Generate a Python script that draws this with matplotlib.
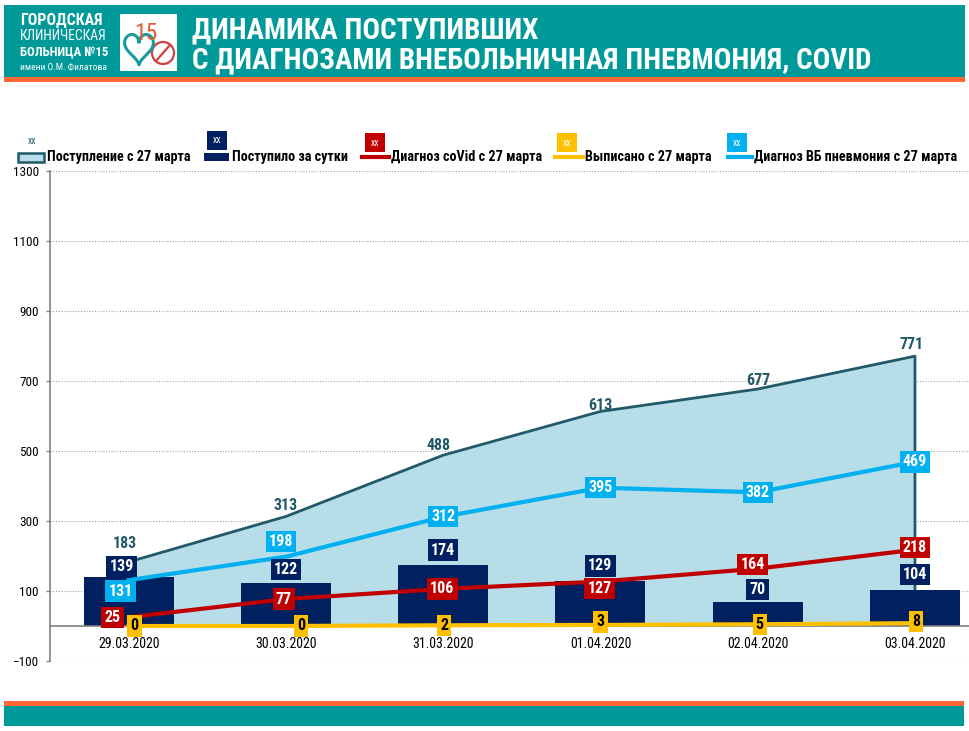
import matplotlib
matplotlib.use('Agg')
import matplotlib.pyplot as plt
from matplotlib.patches import Rectangle, Circle
from matplotlib.lines import Line2D
import numpy as np

# ---------------- data ----------------
dates = ['29.03.2020', '30.03.2020', '31.03.2020', '01.04.2020', '02.04.2020', '03.04.2020']
total_since = [183, 313, 488, 613, 677, 771]      # Поступление с 27 марта
daily = [139, 122, 174, 129, 70, 104]             # Поступило за сутки
covid = [25, 77, 106, 127, 164, 218]              # Диагноз coVid с 27 марта
discharged = [0, 0, 2, 3, 5, 8]                   # Выписано с 27 марта
pneumonia = [131, 198, 312, 395, 382, 469]        # Диагноз ВБ пневмония с 27 марта
y_ticks = [-100, 100, 300, 500, 700, 900, 1100, 1300]
legend_labels = ['Поступление с 27 марта', 'Поступило за сутки', 'Диагноз coVid с 27 марта',
                 'Выписано с 27 марта', 'Диагноз ВБ пневмония с 27 марта']

# label nudges in pixels (dx, dy)
off_total = [(-4, 18), (0, 11), (-5, 10), (0, 6), (1, 9), (-3, 12)]
off_daily = [(-7, 11), (0, 14), (0, 15), (0, 15), (0, 12), (0, 15)]
off_pneu = [(-8, -11), (-5, 15), (0, 0), (0, 0), (0, 0), (0, 0)]
off_covid = [(-16, 0), (-2, 0), (-1, 0), (-1, -7), (-5, 4), (0, 2)]
off_disch = [(6, 0), (15, 0), (1, 0), (0, 3), (2, 0), (1, 2)]

TEAL = '#009999'
ORANGE = '#FF6633'
NAVY = '#002060'
RED = '#C00000'
YELLOW = '#FFC000'
BLUE = '#00B0F0'
AREA = '#B7DEE8'
AREA_EDGE = '#215968'

FONT = ['Roboto Condensed', 'DejaVu Sans']
plt.rcParams['font.family'] = FONT

W, H = 970, 731
fig = plt.figure(figsize=(W / 100, H / 100), dpi=100)

# ---------- background overlay (pixel coordinates) ----------
bg = fig.add_axes([0, 0, 1, 1], zorder=0)
bg.set_xlim(0, W)
bg.set_ylim(H, 0)
bg.axis('off')

bg.add_patch(Rectangle((4, 5), 961, 72, color=TEAL, lw=0))
bg.add_patch(Rectangle((4, 77), 961, 4.5, color=ORANGE, lw=0))
bg.add_patch(Rectangle((4, 701), 960, 4.5, color=ORANGE, lw=0))
bg.add_patch(Rectangle((4, 705.5), 960, 20, color=TEAL, lw=0))

# hospital name block
bg.text(20, 20, 'ГОРОДСКАЯ', color='white', fontsize=11.5, fontweight='bold', va='center', ha='left')
bg.text(20, 36, 'КЛИНИЧЕСКАЯ', color='white', fontsize=9.8, va='center', ha='left')
bg.text(20, 52, 'БОЛЬНИЦА №15', color='white', fontsize=9.2, fontweight='bold', va='center', ha='left')
bg.text(20, 67, 'имени О.М. Филатова', color='white', fontsize=6.8, va='center', ha='left')

# logo
bg.add_patch(Rectangle((120, 14), 57, 57, color='white', lw=0))
t = np.linspace(0, 2 * np.pi, 200)
hx = 16 * np.sin(t) ** 3
hy = 13 * np.cos(t) - 5 * np.cos(2 * t) - 2 * np.cos(3 * t) - np.cos(4 * t)
bg.plot(139 + hx * 0.9, 47 - hy * 1.05, color='#1A9A9A', lw=2.2)
bg.add_patch(Circle((163, 53), 11, fill=False, ec='#D04040', lw=1.6))
bg.plot([156, 170], [61, 45], color='#D04040', lw=1.6)
bg.text(146, 33, '15', color='#E06030', fontsize=17, ha='center', va='center')

# title
bg.text(192, 30, 'ДИНАМИКА ПОСТУПИВШИХ', color='white', fontsize=21, fontweight='bold', va='center', ha='left')
bg.text(192, 60, 'С ДИАГНОЗАМИ ВНЕБОЛЬНИЧНАЯ ПНЕВМОНИЯ, COVID', color='white', fontsize=21,
        fontweight='bold', va='center', ha='left')

# legend (manual, Excel style)
LY = 157
LFS = 10.2
bg.add_patch(Rectangle((18, LY - 4.5), 26, 9, fc=AREA, ec=AREA_EDGE, lw=1.8))
bg.text(47, LY, legend_labels[0], fontsize=LFS, fontweight='bold', va='center', ha='left')
bg.add_patch(Rectangle((204, LY - 4), 25, 8, fc=NAVY, ec='none'))
bg.text(232, LY, legend_labels[1], fontsize=LFS, fontweight='bold', va='center', ha='left')
bg.add_line(Line2D([362, 389], [LY, LY], color=RED, lw=3))
bg.text(391, LY, legend_labels[2], fontsize=LFS, fontweight='bold', va='center', ha='left')
bg.add_line(Line2D([555, 583], [LY, LY], color=YELLOW, lw=3))
bg.text(585, LY, legend_labels[3], fontsize=LFS, fontweight='bold', va='center', ha='left')
bg.add_line(Line2D([728, 752], [LY, LY], color=BLUE, lw=3))
bg.text(754, LY, legend_labels[4], fontsize=LFS, fontweight='bold', va='center', ha='left')

# "xx" legend-key artefacts
bg.text(32, 141, 'xx', color=AREA_EDGE, fontsize=7, ha='center', va='center')
for cx, cy, fc in [(217.5, 140, NAVY), (375.5, 142.5, RED), (567, 142.5, YELLOW), (737, 142.5, BLUE)]:
    bg.add_patch(Rectangle((cx - 10, cy - 9.5), 20, 19, fc=fc, ec='none'))
    bg.text(cx, cy, 'xx', color='white', fontsize=7, ha='center', va='center')

# ---------------- main chart ----------------
ax = fig.add_axes([50 / W, 1 - 661 / H, (W - 50) / W, (661 - 171) / H], zorder=1)
ax.patch.set_alpha(0)
x = np.arange(len(dates))

ax.fill_between(x, 0, total_since, color=AREA, lw=0, zorder=1)
ax.plot(list(x) + [x[-1]], list(total_since) + [0], color=AREA_EDGE, lw=2, zorder=2)
ax.bar(x, daily, width=0.573, color=NAVY, zorder=3)
ax.plot(x, discharged, color=YELLOW, lw=3, zorder=4)
ax.plot(x, covid, color=RED, lw=3, zorder=5)
ax.plot(x, pneumonia, color=BLUE, lw=3, zorder=5)

ax.set_xlim(-0.5, (W - 129) / 157.2)
ax.set_ylim(-100, 1300)
ax.set_yticks(y_ticks)
ax.set_xticks(x)
ax.set_xticklabels(dates, fontsize=9.5, fontweight='bold')
ax.tick_params(axis='x', length=0, pad=8)
ax.tick_params(axis='y', length=3, width=1, color='#808080', labelsize=9.5, pad=5)
ax.yaxis.grid(True, color='#A6A6A6', ls=(0, (1, 1.5)), lw=0.8)
ax.set_axisbelow(True)
for s in ['top', 'right']:
    ax.spines[s].set_visible(False)
ax.spines['left'].set_color('#808080')
ax.spines['left'].set_linewidth(1.2)
ax.spines['bottom'].set_position(('data', 0))
ax.spines['bottom'].set_color('#808080')
ax.spines['bottom'].set_linewidth(1.2)
ax.spines['bottom'].set_zorder(3.5)

P = 0.72  # px -> pt
DFS = 11.5


def boxlab(xi, yi, txt, fc, tc, d, pad=0.2):
    ax.annotate(txt, (xi, yi), xytext=(d[0] * P, d[1] * P), textcoords='offset points',
                ha='center', va='center', fontsize=DFS, fontweight='bold', color=tc,
                bbox=dict(boxstyle='square,pad=%s' % pad, fc=fc, ec='none'), zorder=7,
                annotation_clip=False)


for i in x:
    ax.annotate(str(total_since[i]), (i, total_since[i]),
                xytext=(off_total[i][0] * P, off_total[i][1] * P), textcoords='offset points',
                ha='center', va='center', fontsize=DFS, fontweight='bold', color=AREA_EDGE, zorder=7)
    boxlab(i, daily[i], str(daily[i]), NAVY, 'white', off_daily[i])
    boxlab(i, pneumonia[i], str(pneumonia[i]), BLUE, 'white', off_pneu[i])
    boxlab(i, discharged[i], str(discharged[i]), YELLOW, 'black', off_disch[i])
    boxlab(i, covid[i], str(covid[i]), RED, 'white', off_covid[i])

fig.savefig('out.png', dpi=100)
